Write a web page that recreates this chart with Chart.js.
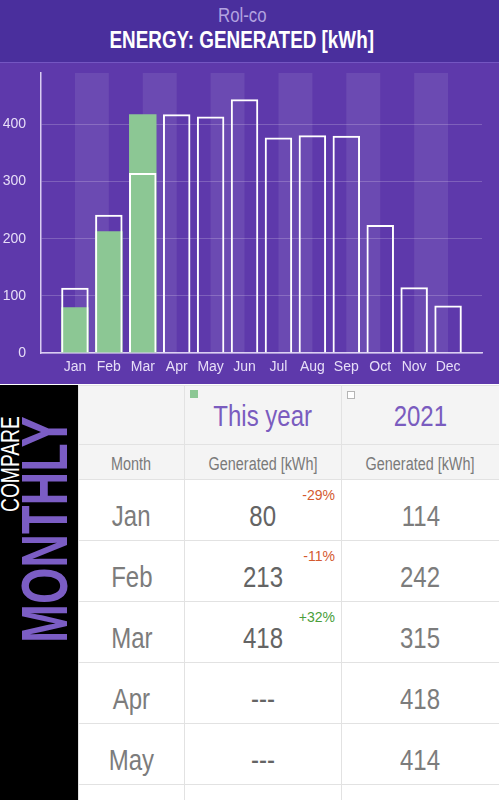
<!DOCTYPE html>
<html lang="en">
<head>
  <meta charset="UTF-8">
  <title>Rol-co - Energy generated</title>
  <script src="https://cdn.jsdelivr.net/npm/chart.js"></script>
  <style>
    body { margin: 0; width: 499px; height: 800px; overflow: hidden; background: #fff;
           font-family: 'Liberation Sans', Arial, sans-serif; }
    /* narrow look of the original font */
    .n { display: inline-block; transform: scaleX(0.8); white-space: nowrap; }
    .header { position: absolute; left: 0; top: 0; width: 499px; height: 62px; background: #4a2f9d;
              border-bottom: 1px solid #7456c2; text-align: center; }
    .header .sub { position: absolute; left: 0; width: 485px; top: 4px; font-size: 21px; line-height: 21px; color: #b3a3e0; }
    .header .main { position: absolute; left: 0; width: 484px; top: 28px; font-size: 24.5px; line-height: 24.5px; font-weight: bold; color: #fff; }
    .header .main .n { transform: scaleX(0.77); }
    .chart-wrap { position: absolute; left: 0; top: 63px; width: 499px; height: 321px; background: #5e39ab; }
    .side { position: absolute; left: 0; top: 385px; width: 78px; height: 415px; background: #000; overflow: hidden; }
    .side span { position: absolute; white-space: nowrap; transform-origin: 0 0; }
    .side .t1 { left: -3px; top: 127px; font-size: 26px; line-height: 26px; color: #fff; transform: rotate(-90deg) scaleX(0.74); }
    .side .t2 { left: 13px; top: 258px; font-size: 64px; line-height: 64px; font-weight: bold; color: #7b5dc4; transform: rotate(-90deg) scaleX(0.73); }
    table { position: absolute; left: 78px; top: 385px; width: 421px; border-collapse: collapse; table-layout: fixed; }
    td, th { border: 1px solid #e2e2e2; text-align: center; padding: 0; font-weight: normal; position: relative; vertical-align: top; }
    tr.title th { height: 43px; padding-top: 15px; background: #f4f4f4; font-size: 30px; line-height: 30px; color: #7a5cbf; }
    tr.unit th { height: 24px; padding-top: 10px; background: #f4f4f4; font-size: 18px; line-height: 18px; color: #7a7a7a; }
    td { height: 39px; padding-top: 21px; font-size: 30px; line-height: 30px; color: #7c7c7c; }
    td.cur { color: #646464; }
    .key { position: absolute; left: 5px; top: 4px; width: 8px; height: 8px; box-sizing: border-box; }
    .key.green { background: #8cc794; }
    .key.white { background: #fff; border: 1px solid #b5b5b5; top: 5px; }
    .pct { position: absolute; right: 6px; top: 8px; font-size: 14px; line-height: 14px; }
    .down { color: #d45a30; }
    .up { color: #4a9e3a; }
  </style>
</head>
<body>
  <div class="header">
    <div class="sub"><span class="n">Rol-co</span></div>
    <div class="main"><span class="n">ENERGY: GENERATED [kWh]</span></div>
  </div>

  <div class="chart-wrap">
    <canvas id="energyChart"></canvas>
  </div>

  <div class="side">
    <span class="t1">COMPARE</span>
    <span class="t2">MONTHLY</span>
  </div>

  <table id="compareTable">
    <colgroup><col style="width:106px"><col style="width:157px"><col style="width:158px"></colgroup>
    <thead>
      <tr class="title">
        <th></th>
        <th><span class="key green"></span><span class="n">This year</span></th>
        <th><span class="key white"></span><span class="n">2021</span></th>
      </tr>
      <tr class="unit">
        <th><span class="n">Month</span></th>
        <th><span class="n">Generated [kWh]</span></th>
        <th><span class="n">Generated [kWh]</span></th>
      </tr>
    </thead>
    <tbody></tbody>
  </table>

  <script>
    // values
    const months = ['Jan', 'Feb', 'Mar', 'Apr', 'May', 'Jun', 'Jul', 'Aug', 'Sep', 'Oct', 'Nov', 'Dec'];
    const thisYear = [80, 213, 418];
    const lastYear = [114, 242, 315, 418, 414, 444, 377, 381, 380, 224, 115, 83];
    const changeLabels = ['-29%', '-11%', '+32%'];
    const yTicks = [0, 100, 200, 300, 400];

    const font = "'Liberation Sans', Arial, sans-serif";

    // one empty slot each side so the axis runs half a column past Jan and Dec
    const labels = [''].concat(months, ['']);
    const pad = arr => [null].concat(months.map((m, i) => arr[i] === undefined ? null : arr[i]), [null]);

    // light stripes from the middle of one month to the middle of the next
    const stripes = {
      id: 'stripes',
      beforeDatasetsDraw(chart) {
        const { ctx, chartArea, scales: { x } } = chart;
        ctx.save();
        ctx.fillStyle = 'rgba(255,255,255,0.085)';
        for (let i = 1; i < months.length; i += 2) {
          const x0 = x.getPixelForValue(i);
          const x1 = x.getPixelForValue(i + 1);
          ctx.fillRect(x0, chartArea.top, x1 - x0, chartArea.bottom - chartArea.top);
        }
        ctx.restore();
      }
    };

    function renderChart() {
      const ctx = document.getElementById('energyChart').getContext('2d');
      new Chart(ctx, {
        type: 'bar',
        data: {
          labels: labels,
          datasets: [{
            label: '2021',
            data: pad(lastYear),
            backgroundColor: 'rgba(0,0,0,0)',
            borderColor: '#ffffff',
            borderWidth: 2,
            grouped: false,
            categoryPercentage: 1,
            barPercentage: 0.81
          }, {
            label: 'This year',
            data: pad(thisYear),
            backgroundColor: '#8cc794',
            borderWidth: 0,
            grouped: false,
            categoryPercentage: 1,
            barPercentage: 0.81
          }]
        },
        options: {
          responsive: true,
          maintainAspectRatio: false,
          animation: false,
          layout: { padding: { top: 10, right: 17, left: 0, bottom: 0 } },
          plugins: { legend: { display: false }, tooltip: { enabled: false } },
          scales: {
            x: {
              offset: false,
              grid: { display: false, drawTicks: false },
              border: { display: true, color: '#d9cdf2', width: 1.5 },
              ticks: { color: '#e6ddf7', font: { family: font, size: 14 }, padding: 6, autoSkip: false, maxRotation: 0 },
              afterFit(scale) { scale.height = 31; scale.paddingLeft = 0; scale.paddingRight = 0; }
            },
            y: {
              min: 0,
              max: 490,
              grid: { color: 'rgba(255,255,255,0.2)', drawTicks: false },
              border: { display: true, color: '#d9cdf2', width: 1.5 },
              ticks: { stepSize: 100, includeBounds: false, color: '#e6ddf7', font: { family: font, size: 14 }, padding: 15 },
              afterBuildTicks(scale) { scale.ticks = yTicks.map(v => ({ value: v })); },
              afterFit(scale) { scale.width = 41; scale.paddingTop = 0; scale.paddingBottom = 0; }
            }
          }
        },
        plugins: [stripes]
      });
    }

    function fillTable() {
      const body = document.querySelector('#compareTable tbody');
      months.forEach((m, i) => {
        const row = document.createElement('tr');
        let cur = '<span class="n">---</span>';
        if (thisYear[i] !== undefined) {
          const cls = changeLabels[i].charAt(0) === '-' ? 'down' : 'up';
          cur = `<span class="n">${thisYear[i]}</span><span class="pct ${cls}">${changeLabels[i]}</span>`;
        }
        row.innerHTML = `<td><span class="n">${m}</span></td><td class="cur">${cur}</td><td><span class="n">${lastYear[i]}</span></td>`;
        body.appendChild(row);
      });
    }

    window.onload = () => {
      renderChart();
      fillTable();
    };
  </script>
</body>
</html>
